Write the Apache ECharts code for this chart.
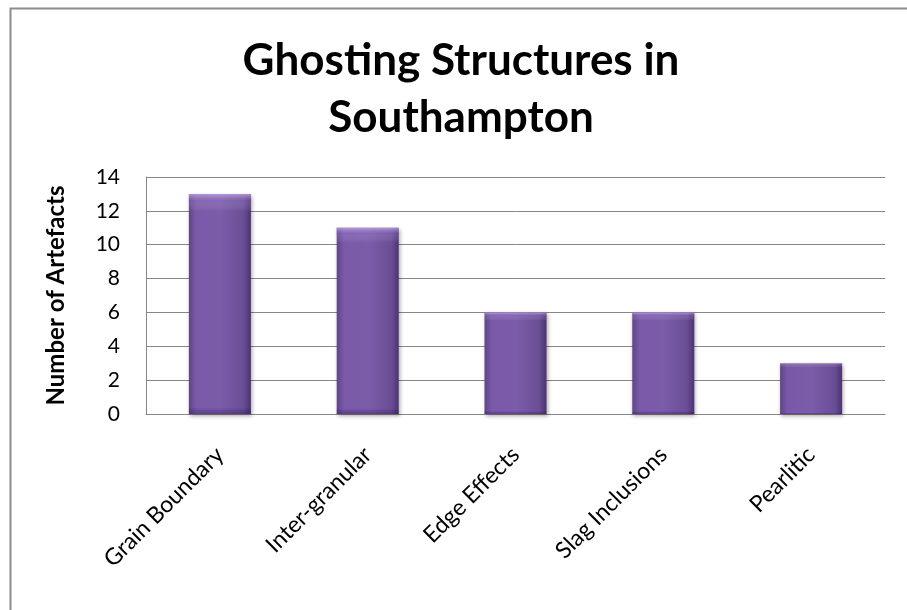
<!DOCTYPE html>
<html><head><meta charset="utf-8">
<script src="https://cdn.jsdelivr.net/npm/echarts@6/dist/echarts.min.js"></script>
<style>html,body{margin:0;padding:0;background:#fff}#c{width:907px;height:610px}</style>
</head><body><div id="c"></div>
<script>
const titleText = 'Ghosting Structures in\nSouthampton';
const yAxisTitle = 'Number of Artefacts';
const categories = ['Grain Boundary', 'Inter-granular', 'Edge Effects', 'Slag Inclusions', 'Pearlitic'];
const counts = [13, 11, 6, 6, 3];
const yMin = 0, yMax = 14, yStep = 2;

const font = 'Lato, "Open Sans", sans-serif';
const chart = echarts.init(document.getElementById('c'), null, {renderer: 'canvas'});
chart.setOption({
  backgroundColor: '#fff',
  animation: false,
  graphic: [{
    type: 'rect', left: 8, top: 6, silent: true,
    shape: {x: 0, y: 0, width: 920, height: 630},
    style: {fill: 'none', stroke: '#8c8c8c', lineWidth: 2}
  }],
  title: {
    text: titleText, left: 461, top: 32, padding: 0,
    textAlign: 'center',
    textStyle: {fontFamily: font, fontWeight: 'bold', fontSize: 44, color: '#000', lineHeight: 57}
  },
  grid: {left: 146, right: 22, top: 177, bottom: 196, containLabel: false},
  xAxis: {
    type: 'category', data: categories,
    axisLine: {show: true, lineStyle: {color: '#868686', width: 1}},
    axisTick: {show: false},
    axisLabel: {rotate: 45, interval: 0, margin: 37, fontFamily: font, fontSize: 23, color: '#000'}
  },
  yAxis: {
    type: 'value', min: yMin, max: yMax, interval: yStep,
    name: yAxisTitle, nameLocation: 'middle', nameGap: 78, nameRotate: 90,
    nameTextStyle: {fontFamily: font, fontWeight: 'bold', fontSize: 24, color: '#000'},
    axisLine: {show: true, lineStyle: {color: '#868686', width: 1}},
    axisTick: {show: false},
    axisLabel: {margin: 26, fontFamily: font, fontSize: 21, color: '#000'},
    splitLine: {show: true, lineStyle: {color: '#868686', width: 1}}
  },
  series: [{
    type: 'bar', data: counts, barWidth: 62,
    itemStyle: {
      color: new echarts.graphic.LinearGradient(0, 0, 1, 0, [
        {offset: 0, color: '#5e4489'},
        {offset: 0.12, color: '#7a5aa8'},
        {offset: 0.5, color: '#7b5ca9'},
        {offset: 0.88, color: '#6a4e95'},
        {offset: 1, color: '#4b3470'}
      ]),
      shadowColor: 'rgba(0,0,0,0.35)', shadowBlur: 4, shadowOffsetX: 1, shadowOffsetY: 2
    }
  }, {
    type: 'bar', data: counts, barWidth: 62, barGap: '-100%', silent: true,
    itemStyle: {
      color: new echarts.graphic.LinearGradient(0, 0, 0, 1, [
        {offset: 0, color: 'rgba(200,170,240,0.75)'},
        {offset: 0.03, color: 'rgba(170,140,220,0.25)'},
        {offset: 0.08, color: 'rgba(255,255,255,0)'},
        {offset: 0.97, color: 'rgba(0,0,0,0)'},
        {offset: 1, color: 'rgba(40,20,70,0.35)'}
      ])
    }
  }]
});
</script></body></html>
